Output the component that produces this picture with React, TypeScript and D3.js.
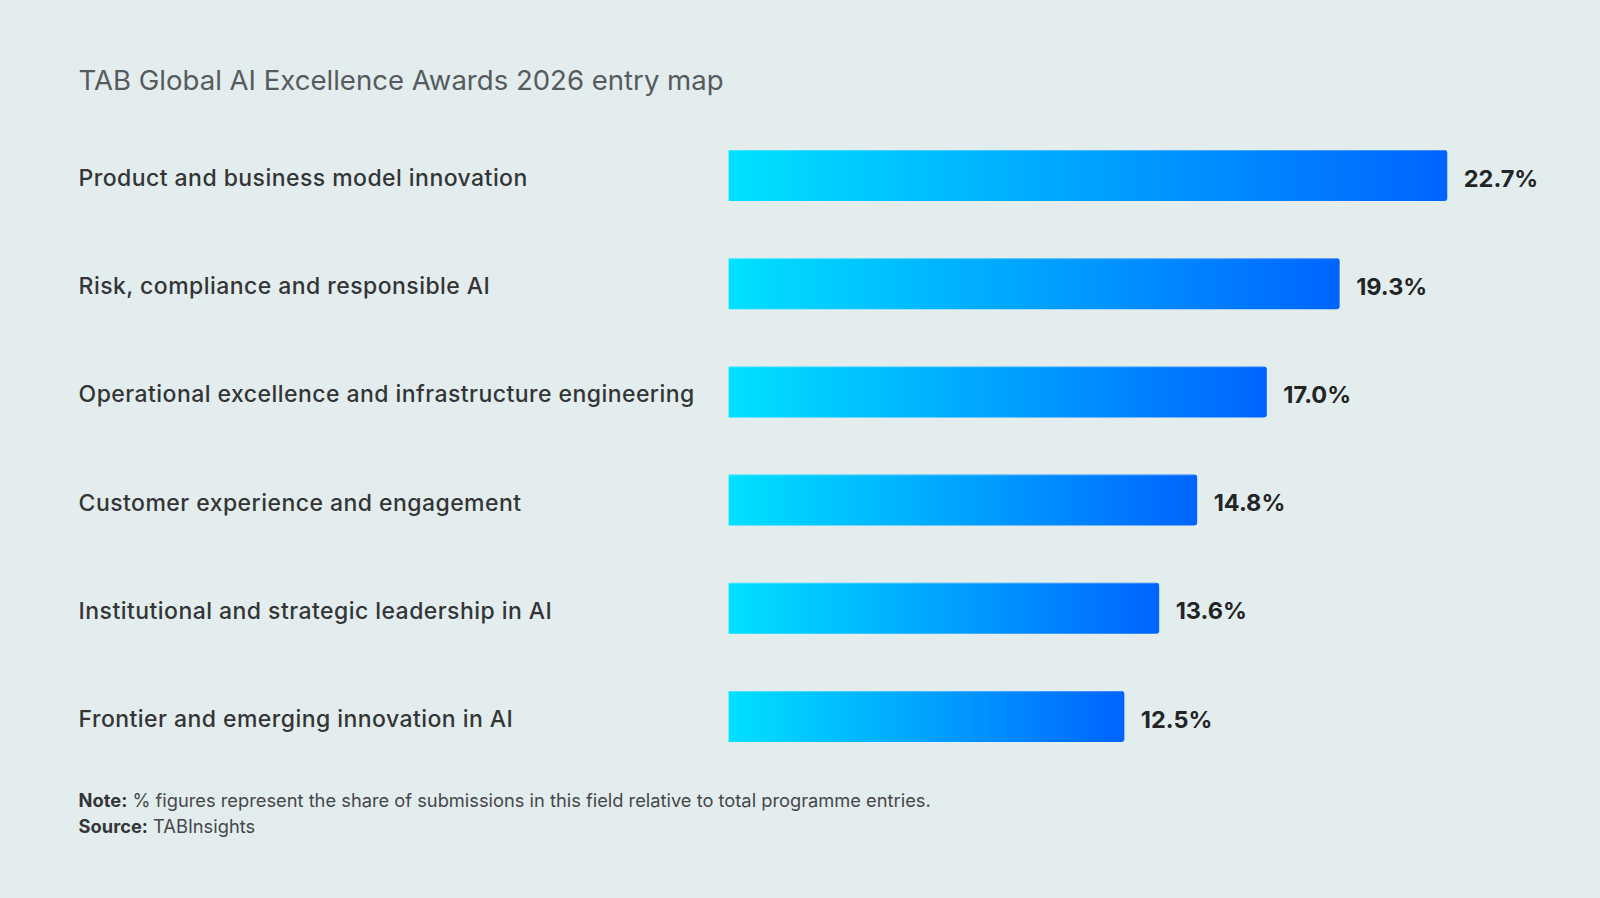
import React from "react";
import * as d3 from "d3";

const categories = [
  "Product and business model innovation",
  "Risk, compliance and responsible AI",
  "Operational excellence and infrastructure engineering",
  "Customer experience and engagement",
  "Institutional and strategic leadership in AI",
  "Frontier and emerging innovation in AI",
];
const shares = [22.7, 19.3, 17.0, 14.8, 13.6, 12.5];

const W = 1600;
const H = 898;
const FONT = "Inter, 'Noto Sans', sans-serif";

export default function App() {
  const x = d3.scaleLinear().domain([0, 25]).range([728.6, 1520.1]);
  const y = d3
    .scaleBand<string>()
    .domain(categories)
    .range([121.4, 770.6])
    .paddingInner(0.529)
    .paddingOuter(0.2645);
  const bw = y.bandwidth();
  const r = 3;

  const barPath = (v: number, top: number) => {
    const x0 = x(0);
    const x1 = x(v);
    const b = top + bw;
    return `M${x0},${top}H${x1 - r}Q${x1},${top} ${x1},${top + r}V${b - r}Q${x1},${b} ${x1 - r},${b}H${x0}Z`;
  };

  return (
    <svg
      width={W}
      height={H}
      style={{ position: "absolute", left: 0, top: 0, background: "#e4eded" }}
    >
      <defs>
        <linearGradient id="barGrad" x1="0" x2="1" y1="0" y2="0">
          <stop offset="0%" stopColor="#00e1ff" />
          <stop offset="100%" stopColor="#0064ff" />
        </linearGradient>
      </defs>
      <rect width={W} height={H} fill="#e4eded" />
      <text
        x={78.6}
        y={90}
        fontFamily={FONT}
        fontSize={27}
        fill="#555b5e"
        textLength={645}
        lengthAdjust="spacingAndGlyphs"
      >
        TAB Global AI Excellence Awards 2026 entry map
      </text>
      {categories.map((c, i) => {
        const top = y(c)!;
        const cy = top + bw / 2;
        return (
          <g key={c}>
            <text
              x={78.6}
              y={cy + 10.5}
              fontFamily={FONT}
              fontSize={23}
              fontWeight={500}
              letterSpacing={0.45}
              fill="#333537"
            >
              {c}
            </text>
            <path d={barPath(shares[i], top)} fill="url(#barGrad)" />
            <line
              x1={x(0)}
              x2={x(shares[i]) - r}
              y1={top + 0.5}
              y2={top + 0.5}
              stroke="#ffffff"
              strokeOpacity={0.25}
            />
            <text
              x={x(shares[i]) + 16.5}
              y={cy + 11}
              fontFamily={FONT}
              fontSize={23.5}
              fontWeight={700}
              fill="#222426"
            >
              {shares[i].toFixed(1)}%
            </text>
          </g>
        );
      })}
      <text x={78.6} y={806.7} fontFamily={FONT} fontSize={18.3} fill="#444749">
        <tspan fontWeight={700} fill="#333537">Note:</tspan> % figures represent the share of submissions in this field relative to total programme entries.
      </text>
      <text x={78.6} y={832.7} fontFamily={FONT} fontSize={18.3} fill="#444749">
        <tspan fontWeight={700} fill="#333537">Source:</tspan> TABInsights
      </text>
    </svg>
  );
}
